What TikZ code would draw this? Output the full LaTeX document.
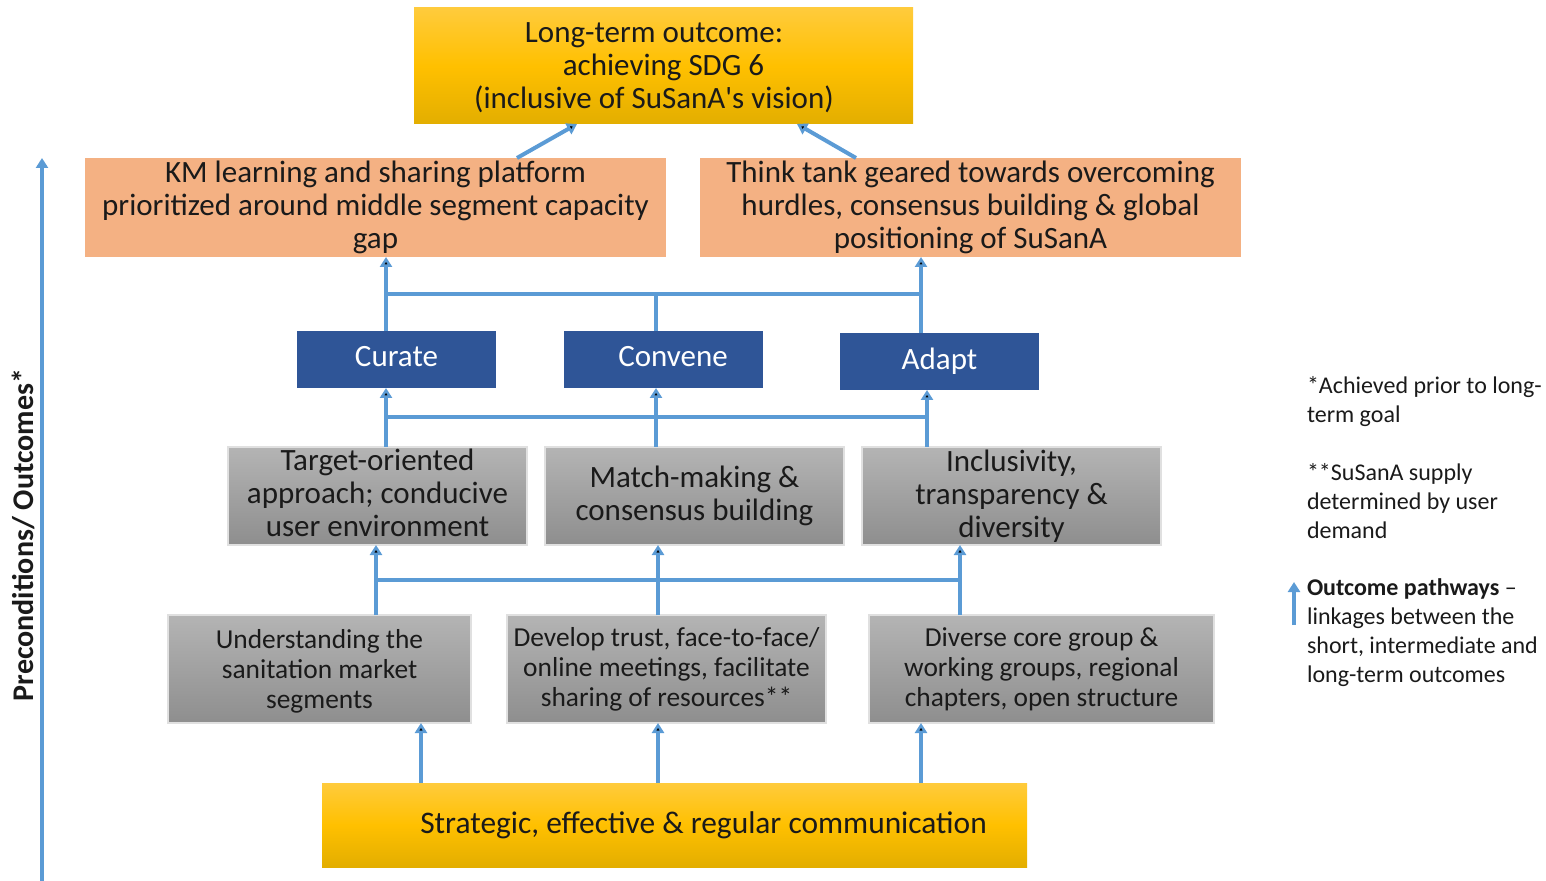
\documentclass[tikz,border=0pt]{standalone}
\usepackage{fontspec}
\setmainfont{Carlito}
\usepackage{xcolor}
\usepackage{tikz}
\usetikzlibrary{arrows.meta}
\usetikzlibrary{calc}
\usetikzlibrary{positioning}

\definecolor{pathblue}{HTML}{5B9BD5}
\definecolor{goldtop}{HTML}{FFCB3C}
\definecolor{goldmid}{HTML}{FFC000}
\definecolor{goldbot}{HTML}{E3AE00}
\definecolor{salmon}{HTML}{F4B183}
\definecolor{navy}{HTML}{2F5597}
\definecolor{greytop}{HTML}{B4B4B4}
\definecolor{greybot}{HTML}{8E8E8E}
\definecolor{ink}{HTML}{1A1A1A}

\begin{document}
\begin{tikzpicture}[>={Triangle[width=6pt,length=5pt]}, x=1pt, y=1pt, node distance=17pt, outer sep=0pt, text=ink]
 \tikzstyle{gold}=[inner sep=0pt, align=center, top color=goldtop, bottom color=goldbot, middle color=goldmid, font=\fontsize{15.5}{16.5}\selectfont]
 \tikzstyle{outcome}=[inner sep=0pt, align=center, fill=salmon, minimum height=49.5pt, font=\fontsize{15.5}{16.5}\selectfont]
 \tikzstyle{func}=[inner sep=0pt, fill=navy, text=white, text depth=3pt, minimum width=99.5pt, minimum height=28.5pt, font=\fontsize{15.5}{16.5}\selectfont]
 \tikzstyle{mid}=[inner sep=0pt, align=center, top color=greytop, bottom color=greybot, draw=black!12, line width=0.6pt, minimum width=149.5pt, minimum height=49pt, font=\fontsize{15.5}{16.5}\selectfont]
 \tikzstyle{base}=[inner sep=0pt, align=center, top color=greytop, bottom color=greybot, draw=black!12, line width=0.6pt, minimum height=54pt, font=\fontsize{13.7}{15}\selectfont]
 \tikzstyle{note}=[inner sep=0pt, anchor=north west, align=left, font=\fontsize{12}{14.5}\selectfont]
 \tikzstyle{link}=[draw=pathblue, line width=2pt]

 \useasboundingbox (0,0) rectangle (773,-440.5);

 % long-term outcome and the two platforms
 \node[gold, text depth=0pt, minimum width=249.5pt, minimum height=58pt] (goal) at (331.75,-33) {Long-term outcome:\hspace*{9.5pt}\\achieving SDG 6\hspace*{9.5pt}\\(inclusive of SuSanA\textquotesingle s vision)\hspace*{9.5pt}};
 \node[outcome, minimum width=290.5pt] (km) [below=17pt of goal, xshift=-144pt] {KM learning and sharing platform\\prioritized around middle segment capacity\\gap};
 \node[outcome, minimum width=270.5pt] (think) [below=17pt of goal, xshift=153.5pt] {Think tank geared towards overcoming\\hurdles, consensus building \& global\\positioning of SuSanA};

 % functions
 \node[func] (curate) [below=37pt of km, xshift=10.5pt] {Curate};
 \node[func] (convene) [right=34pt of curate] {\hspace*{9.5pt}Convene};
 \node[func] (adapt) [right=38.5pt of convene, yshift=-1pt] {Adapt};

 % intermediate outcomes
 \node[mid, text depth=3pt] (target) [below=29.5pt of curate, xshift=-9.5pt] {Target-oriented\\approach; conducive\\user environment};
 \node[mid] (match) [right=9pt of target] {Match-making \&\\consensus building};
 \node[mid] (incl) [right=9pt of match] {Inclusivity,\\transparency \&\\diversity};

 % short-term outcomes
 \node[base, text depth=0pt, minimum width=151.5pt] (underst) [below=35pt of target, xshift=-29pt] {Understanding the\\sanitation market\\segments};
 \node[base, minimum width=159.5pt] (develop) [right=18pt of underst] {Develop trust, face-to-face/\\online meetings, facilitate\\sharing of resources**};
 \node[base, minimum width=172.5pt] (diverse) [right=21.5pt of develop] {Diverse core group \&\\working groups, regional\\chapters, open structure};

 \node[gold, minimum width=352.5pt, minimum height=42pt, font=\fontsize{15.7}{16.5}\selectfont] (comm) [below=30pt of underst, xshift=177.5pt] {\hspace*{29pt}Strategic, effective \& regular communication};

 % buses
 \coordinate (bus1) at ($(km.south)!0.5!(curate.north)$);
 \coordinate (bus2) at ($(curate.south)!0.5!(target.north)$);
 \coordinate (bus3) at ($(target.south)!0.5!(underst.north)$);

 \path[link]
  ([xshift=70.75pt]km.north) edge[->] ([xshift=-43.25pt]goal.south)
  ([xshift=-57.25pt]think.north) edge[->] ([xshift=66.75pt]goal.south)
  ([xshift=-5.25pt]curate.north) edge[->] ([xshift=-5.25pt]curate.north |- km.south)
  ([xshift=-3.75pt]convene.north) edge ([xshift=-3.75pt]convene.north |- bus1)
  ([xshift=-9.25pt]adapt.north) edge[->] ([xshift=-9.25pt]adapt.north |- think.south)
  ([xshift=4.25pt]target.north) edge[->] ([xshift=4.25pt]target.north |- curate.south)
  ([xshift=-19.25pt]match.north) edge[->] ([xshift=-19.25pt]match.north |- convene.south)
  ([xshift=-42.25pt]incl.north) edge[->] ([xshift=-42.25pt]incl.north |- adapt.south)
  ([xshift=28.25pt]underst.north) edge[->] ([xshift=28.25pt]underst.north |- target.south)
  ([xshift=-4.25pt]develop.north) edge[->] ([xshift=-4.25pt]develop.north |- match.south)
  ([xshift=-40.75pt]diverse.north) edge[->] ([xshift=-40.75pt]diverse.north |- incl.south)
  ([xshift=-126.75pt]comm.north) edge[->] ([xshift=-126.75pt]comm.north |- underst.south)
  ([xshift=-8.25pt]comm.north) edge[->] ([xshift=-8.25pt]comm.north |- develop.south)
  ([xshift=123.25pt]comm.north) edge[->] ([xshift=123.25pt]comm.north |- diverse.south);
 \draw[link] ([xshift=-5.25pt]curate.north |- bus1) -- ([xshift=-9.25pt]adapt.north |- bus1);
 \draw[link] ([xshift=4.25pt]target.north |- bus2) -- ([xshift=-42.25pt]incl.north |- bus2);
 \draw[link] ([xshift=28.25pt]underst.north |- bus3) -- ([xshift=-40.75pt]diverse.north |- bus3);

 % axis
 \coordinate (axisfoot) at (21,-440.5);
 \draw[link,->] (axisfoot) -- (axisfoot |- km.north);
 \node[rotate=90, inner sep=0pt, font=\bfseries\fontsize{15}{16}\selectfont] (axislabel) at (11.5,-267.5) {Preconditions/ Outcomes*};

 % notes
 \node[note] (note1) at (653.5,-188) {*Achieved prior to long-\\term goal};
 \node[note] (note2) at (653.5,-231.5) {**SuSanA supply\\determined by user\\demand};
 \node[note] (note3) at (653.5,-289.5) {\textbf{Outcome pathways} --\\linkages between the\\short, intermediate and\\long-term outcomes};
 \coordinate (legfoot) at (647,-312.5);
 \coordinate (leghead) at (647,-291);
 \draw[link,->] (legfoot) -- (leghead);
\end{tikzpicture}
\end{document}
